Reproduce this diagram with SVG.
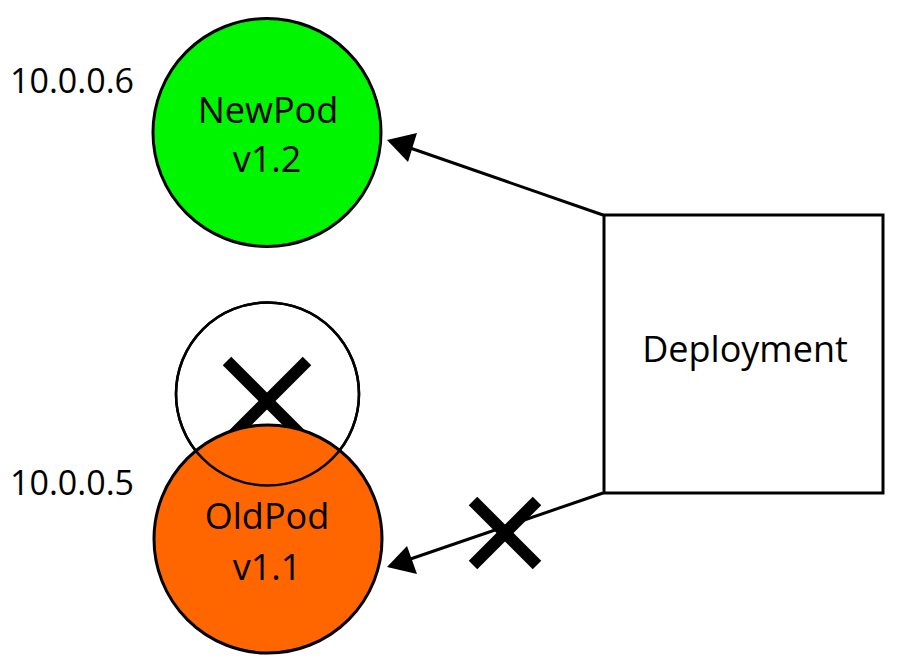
<svg xmlns="http://www.w3.org/2000/svg" width="900" height="667" viewBox="0 0 900 667">
<defs>
<style>
text{font-family:"Open Sans","Noto Sans","DejaVu Sans",sans-serif;fill:#000;}
.lbl{font-size:36px;text-anchor:middle;}
.ip{font-size:34px;}
.node{stroke:#000;stroke-width:3;}
.x{stroke:#000;stroke-width:12;stroke-linecap:butt;fill:none;}
.conn{stroke:#000;stroke-width:3;fill:none;}
</style>
<marker id="ah" viewBox="0 0 10 10" refX="10" refY="5" markerWidth="10" markerHeight="10" markerUnits="userSpaceOnUse" orient="auto">
<path d="M0,0 L10,5 L0,10 z" fill="#000"/>
</marker>
</defs>
<rect width="900" height="667" fill="#fff"/>
<g id="newpod">
<circle class="node" cx="267" cy="132.5" r="114" fill="#00f500"/>
<text class="lbl" x="268" y="123">NewPod</text>
<text class="lbl" x="267" y="172">v1.2</text>
<text class="ip" x="10" y="93">10.0.0.6</text>
</g>
<g id="terminated">
<circle cx="267.5" cy="394" r="91.5" fill="#fff" stroke="#000" stroke-width="2.5"/>
<line class="x" x1="227" y1="361" x2="307" y2="441"/>
<line class="x" x1="307" y1="361" x2="227" y2="441"/>
</g>
<g id="oldpod">
<circle class="node" cx="268" cy="539" r="114" fill="#ff6600"/>
<text class="lbl" x="267" y="529">OldPod</text>
<text class="lbl" x="267" y="580">v1.1</text>
<text class="ip" x="10" y="495">10.0.0.5</text>
</g>
<circle cx="267.5" cy="394" r="91.5" fill="none" stroke="#000" stroke-width="2.5"/>
<g id="deployment">
<rect class="node" x="604" y="215" width="279" height="278" fill="#fff"/>
<text class="lbl" x="745" y="362">Deployment</text>
</g>
<g id="connectors">
<line class="conn" x1="603" y1="215" x2="390" y2="141"/>
<path d="M387,140 L417,133 L408,162 z" fill="#000"/>
<line class="conn" x1="603" y1="493" x2="390" y2="566"/>
<path d="M387,567 L407,546 L417,574 z" fill="#000"/>
<line class="x" x1="473" y1="501" x2="537" y2="565"/>
<line class="x" x1="537" y1="501" x2="473" y2="565"/>
</g>
</svg>
